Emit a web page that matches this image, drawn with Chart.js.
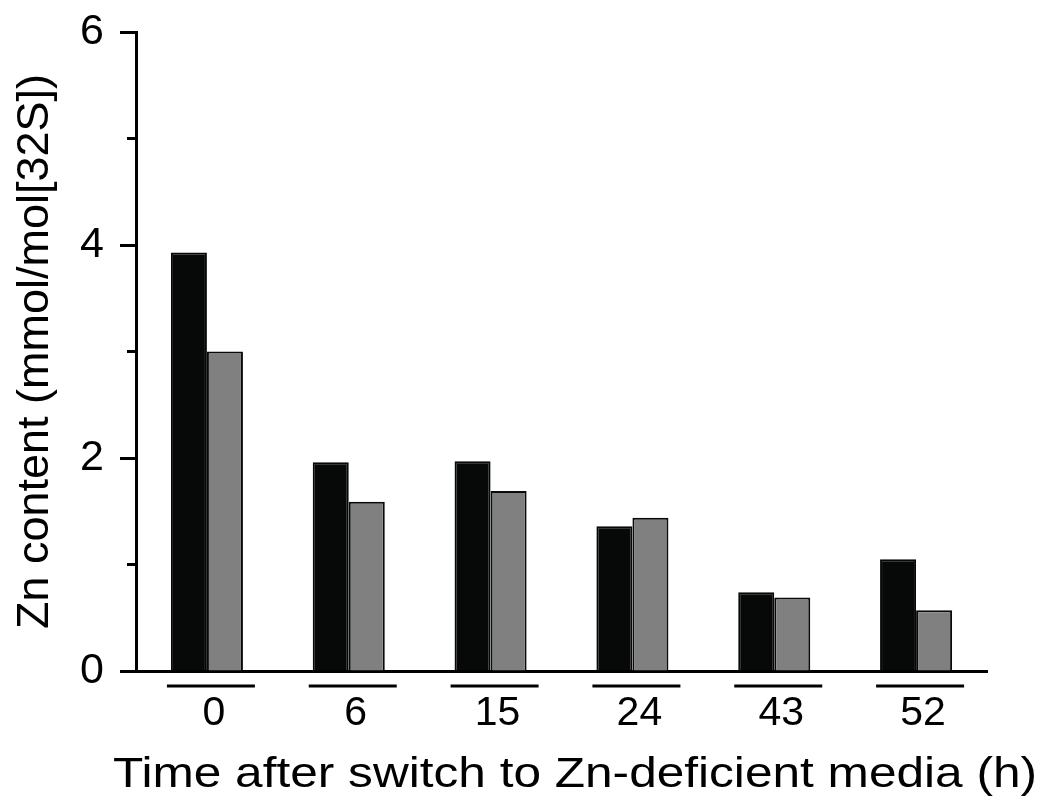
<!DOCTYPE html>
<html>
<head>
<meta charset="utf-8">
<script src="https://cdn.jsdelivr.net/npm/chart.js@4.4.0/dist/chart.umd.min.js"></script>
<style>
  html, body { margin: 0; padding: 0; background: #fff; }
  #wrap { width: 1046px; height: 798px; }
</style>
</head>
<body>
<div id="wrap"><canvas id="myChart" width="1046" height="798"></canvas></div>
<script>
const categories = ['0', '6', '15', '24', '43', '52'];
const blackValues = [3.93, 1.96, 1.97, 1.36, 0.74, 1.05];
const grayValues = [3.00, 1.59, 1.69, 1.44, 0.69, 0.57];
const yTicks = [0, 2, 4, 6];
const yMinorTicks = [1, 3, 5];
const xTitle = 'Time after switch to Zn-deficient media (h)';
const yTitle = 'Zn content (mmol/mol[32S])';

const FONT = "'Liberation Sans', Arial, Helvetica, sans-serif";

// minor y ticks, the short lines under each group, and the (wide) x title
const extras = {
    id: 'extras',
    afterDraw(chart) {
        const ctx = chart.ctx;
        const x = chart.scales.x;
        const y = chart.scales.y;
        const area = chart.chartArea;
        ctx.save();
        ctx.strokeStyle = '#000';
        ctx.lineWidth = 3;
        yMinorTicks.forEach(v => {
            const py = y.getPixelForValue(v);
            ctx.beginPath();
            ctx.moveTo(area.left - 9, py);
            ctx.lineTo(area.left, py);
            ctx.stroke();
        });
        const lineY = area.bottom + 15;
        categories.forEach((c, i) => {
            const cx = x.getPixelForValue(i);
            ctx.beginPath();
            ctx.moveTo(cx - 40, lineY);
            ctx.lineTo(cx + 48, lineY);
            ctx.stroke();
        });

        // x title: the original is stretched sideways, so scale it to its width
        ctx.font = '43px ' + FONT;
        ctx.fillStyle = '#000';
        ctx.textAlign = 'left';
        ctx.textBaseline = 'alphabetic';
        const w = ctx.measureText(xTitle).width;
        ctx.translate(area.left - 23, area.bottom + 116);
        ctx.scale(924 / w, 1);
        ctx.fillText(xTitle, 0, 0);
        ctx.restore();
    }
};

const ctx = document.getElementById('myChart').getContext('2d');

const myChart = new Chart(ctx, {
    type: 'bar',
    data: {
        labels: categories,
        datasets: [{
            label: 'Series 1',
            data: blackValues,
            backgroundColor: '#070908',
            borderColor: '#070908',
            borderWidth: 2
        }, {
            label: 'Series 2',
            data: grayValues,
            backgroundColor: '#808080',
            borderColor: '#0a0a0a',
            borderWidth: 2
        }]
    },
    options: {
        responsive: false,
        animation: false,
        layout: { padding: { left: 0, right: 59, top: 32, bottom: 0 } },
        plugins: {
            legend: { display: false },
            tooltip: { enabled: false }
        },
        datasets: {
            bar: { categoryPercentage: 0.508, barPercentage: 1.0 }
        },
        scales: {
            x: {
                grid: { display: true, drawOnChartArea: false, drawTicks: false },
                border: { display: true, color: '#000', width: 3 },
                ticks: {
                    color: '#000',
                    font: { family: FONT, size: 41 },
                    padding: 18,
                    labelOffset: 7,
                    maxRotation: 0
                },
                title: { display: false },
                afterFit(scale) { scale.height = 127; }
            },
            y: {
                min: 0,
                max: 6,
                afterBuildTicks(scale) {
                    scale.ticks = yTicks.map(v => ({ value: v }));
                },
                grid: {
                    display: true,
                    drawOnChartArea: false,
                    drawTicks: true,
                    tickLength: 16,
                    tickWidth: 3,
                    tickColor: '#000'
                },
                border: { display: true, color: '#000', width: 3 },
                ticks: {
                    color: '#000',
                    font: { family: FONT, size: 43 },
                    padding: 16
                },
                title: {
                    display: true,
                    text: yTitle,
                    color: '#000',
                    font: { family: FONT, size: 45, lineHeight: 1 },
                    padding: { top: 13, bottom: 0 }
                },
                afterFit(scale) {
                    scale.width = 136;
                    scale.paddingTop = 0;
                    scale.paddingBottom = 0;
                }
            }
        }
    },
    plugins: [extras]
});
</script>
</body>
</html>
